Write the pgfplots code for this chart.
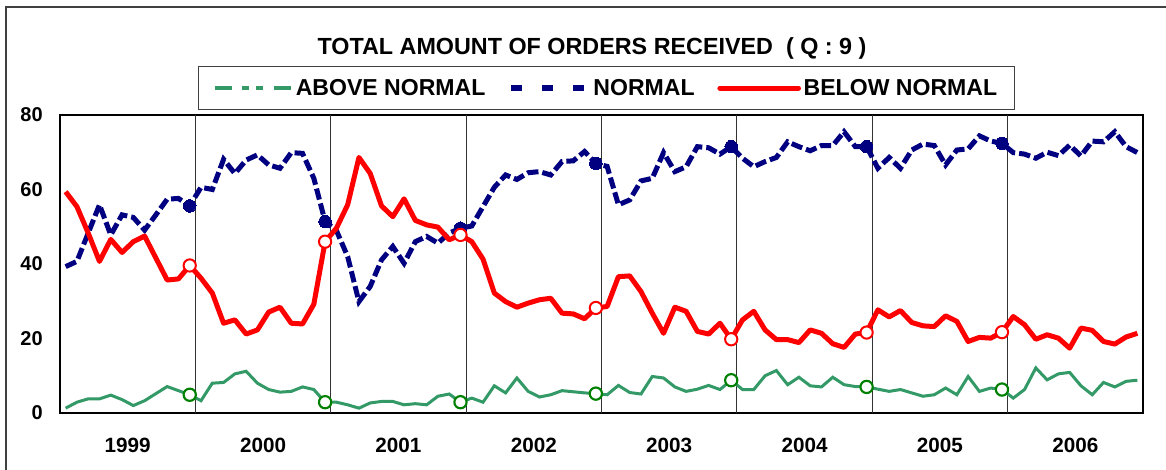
\documentclass[border=0pt]{standalone}
\usepackage{pgfplots}
\pgfplotsset{compat=1.18}
\usepackage{pgfplotstable}
\usepackage{fontspec}
\setmainfont{Liberation Sans}
\definecolor{navyc}{RGB}{0,0,128}
\definecolor{seag}{RGB}{51,153,102}
\definecolor{mgreen}{RGB}{0,128,0}

\pgfplotstableread{
m above normal below
0 1.3 39.3 59.4
1 2.9 40.7 55.4
2 3.8 48.3 48.3
3 3.8 55.9 40.7
4 4.8 47.8 46.6
5 3.6 53.2 43.1
6 2.0 52.5 46.0
7 3.3 49.1 47.5
8 5.2 53.2 41.6
9 7.1 57.4 35.7
10 6.0 57.6 36.0
11 4.9 55.6 39.6
12 3.3 60.6 36.2
13 8.0 60.0 32.2
14 8.2 68.1 24.1
15 10.5 64.3 25.0
16 11.2 67.9 21.2
17 8.0 69.3 22.3
18 6.3 66.6 27.1
19 5.6 65.7 28.4
20 5.8 69.9 24.1
21 7.0 69.7 23.9
22 6.3 63.0 29.2
23 2.9 51.4 46.0
24 2.9 49.0 49.6
25 2.2 42.0 55.9
26 1.3 29.9 68.6
27 2.7 34.0 64.3
28 3.1 41.1 55.6
29 3.1 44.7 52.7
30 2.2 40.2 57.5
31 2.5 46.0 51.7
32 2.2 47.4 50.5
33 4.5 45.6 49.9
34 5.1 48.3 46.5
35 2.9 49.6 47.8
36 4.0 50.2 46.0
37 2.9 55.4 41.3
38 7.3 60.6 32.2
39 5.4 63.9 29.9
40 9.4 62.7 28.4
41 5.8 64.5 29.5
42 4.3 64.8 30.4
43 4.9 63.9 30.8
44 6.0 67.5 26.8
45 5.7 67.7 26.6
46 5.4 70.2 25.3
47 5.2 67.0 28.2
48 4.9 66.2 28.6
49 7.4 55.9 36.6
50 5.5 57.2 36.8
51 5.1 62.3 32.6
52 9.8 63.0 26.8
53 9.4 69.9 21.4
54 7.0 64.8 28.4
55 5.8 66.1 27.3
56 6.4 71.5 21.9
57 7.4 71.2 21.2
58 6.3 69.5 24.1
59 8.8 71.5 19.8
60 6.3 68.4 25.0
61 6.3 66.1 27.3
62 10.0 67.5 22.3
63 11.4 68.6 19.7
64 7.6 72.8 19.7
65 9.6 71.5 18.9
66 7.3 70.4 22.3
67 7.0 71.8 21.4
68 9.6 71.8 18.6
69 7.6 75.5 17.6
70 7.1 71.5 21.2
71 7.0 71.5 21.6
72 6.4 65.7 27.7
73 5.8 68.6 25.8
74 6.3 65.7 27.5
75 5.4 70.6 24.3
76 4.5 72.2 23.4
77 4.9 71.8 23.2
78 6.7 66.6 26.1
79 4.9 70.6 24.6
80 9.8 70.9 19.2
81 5.8 74.4 20.3
82 6.7 73.0 20.1
83 6.3 72.4 21.7
84 4.0 69.9 25.9
85 6.3 69.5 23.7
86 12.1 68.4 19.8
87 8.9 70.0 21.0
88 10.5 69.1 20.1
89 10.9 71.9 17.4
90 7.3 69.0 22.8
91 4.9 73.0 22.2
92 8.2 72.8 19.2
93 7.0 75.5 18.5
94 8.5 71.5 20.4
95 8.8 69.9 21.4
}\datatable

\begin{document}
\begin{tikzpicture}
\path[use as bounding box] (0,0) rectangle (874.5pt,-352.5pt);
\draw[black!75, line width=1.1pt] (4.5pt,-352.5pt) -- (4.5pt,-5.25pt) -- (874.5pt,-5.25pt);
\node[font=\bfseries\fontsize{17.5}{20}\selectfont, anchor=center] at (444pt,-36pt) {TOTAL AMOUNT OF ORDERS RECEIVED\ \ ( Q : 9 )};
\begin{axis}[
  at={(45pt,-86.25pt)}, anchor=north west,
  scale only axis, width=812.25pt, height=223.5pt,
  xmin=-0.5, xmax=95.5, ymin=0, ymax=80,
  axis line style={black, line width=1.1pt},
  ytick={0,20,40,60,80},
  xtick={5.5,17.5,29.5,41.5,53.5,65.5,77.5,89.5},
  xticklabels={1999,2000,2001,2002,2003,2004,2005,2006},
  major tick length=0pt,
  /pgf/number format/assume math mode=true,
  yticklabel style={font=\bfseries\fontsize{15}{17}\selectfont, anchor=east, inner sep=0pt, xshift=-12.75pt},
  xticklabel style={font=\bfseries\fontsize{15.5}{17}\selectfont, anchor=center, inner sep=0pt, yshift=-24pt},
  extra x ticks={11.5,23.5,35.5,47.5,59.5,71.5,83.5},
  extra x tick labels={},
  extra x tick style={grid=major, major grid style={black!80, line width=0.75pt}},
  legend columns=3,
  legend style={at={(0.1274,1.165)}, anchor=north west, draw=black!75, line width=0.75pt,
    font=\bfseries\fontsize{17.3}{19}\selectfont, inner xsep=11pt, inner ysep=7.5pt,
    /tikz/every even column/.append style={column sep=15pt}},
  clip=false,
]
\addplot[seag, line width=2.25pt, mark=*, mark indices={12,24,36,48,60,72,84},
  mark size=4.6pt, mark options={solid, draw=mgreen, fill=white, line width=1.6pt},
  legend image code/.code={\draw[seag, line width=2.5pt, dash pattern=on 13.25pt off 7.5pt on 5pt off 5.5pt on 5pt off 8pt on 13.25pt] (0pt,0pt) -- (57.5pt,0pt);}]
  table[x=m, y=above] {\datatable};
\addlegendentry{ABOVE NORMAL}
\addplot[navyc, line width=3.75pt, dash pattern=on 8.5pt off 3pt, mark=*, mark indices={12,24,36,48,60,72,84},
  mark size=4.7pt, mark options={solid, fill=navyc, line width=0pt},
  legend image code/.code={\draw[navyc, line width=4.5pt, dash pattern=on 8.25pt off 15pt] (0pt,0pt) -- (57.5pt,0pt);}]
  table[x=m, y=normal] {\datatable};
\addlegendentry{NORMAL}
\addplot[red, line width=3.75pt, line join=round, mark=*, mark indices={12,24,36,48,60,72,84},
  mark size=4.6pt, mark options={solid, draw=red, fill=white, line width=1.5pt},
  legend image code/.code={\draw[red, line width=3.75pt, line cap=round] (0pt,0pt) -- (59pt,0pt);}]
  table[x=m, y=below] {\datatable};
\addlegendentry{BELOW NORMAL}
\end{axis}
\end{tikzpicture}
\end{document}
